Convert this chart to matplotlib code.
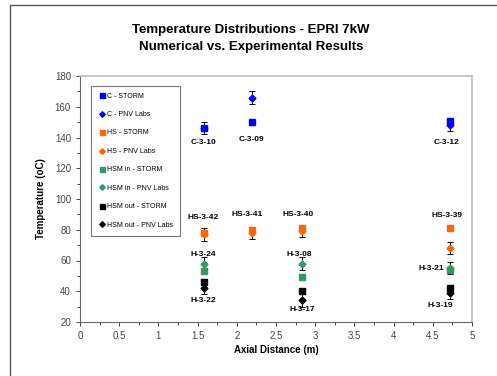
import matplotlib.pyplot as plt
from matplotlib.patches import Rectangle
from matplotlib.ticker import MultipleLocator

plt.rcParams['font.family'] = ['Liberation Sans', 'DejaVu Sans']

# axial positions (m)
x_pos = [1.58, 2.19, 2.83, 4.72]

# STORM (numerical) and PNV Labs (experimental) temperatures, oC
c_storm = [146, 150, None, 151]
c_pnv = [146, 166, None, 148]
hs_storm = [78, 80, 81, 81]
hs_pnv = [77, 78, 79, 68]
hsm_in_storm = [53, None, 49, 54]
hsm_in_pnv = [58, None, 58, 55]
hsm_out_storm = [46, None, 40, 42]
hsm_out_pnv = [42, None, 34, 39]
pnv_err = 4

# thermocouple labels
labels = ['C-3-10', 'C-3-09', 'C-3-12', 'HS-3-42', 'HS-3-41', 'HS-3-40', 'HS-3-39',
          'H-3-24', 'H-3-08', 'H-3-22', 'H-3-17', 'H-3-21', 'H-3-19']
label_x = [1.58, 2.19, 4.68, 1.57, 2.13, 2.78, 4.68,
           1.57, 2.80, 1.57, 2.83, 4.65, 4.60]
label_y = [137, 139, 137, 88, 90, 90, 89,
           64, 64, 34, 28, 55, 31]
label_ha = ['center'] * 11 + ['right', 'center']

series = [
    ('C - STORM', c_storm, 's', '#0000FF', False),
    ('C - PNV Labs', c_pnv, 'D', '#0000FF', True),
    ('HS - STORM', hs_storm, 's', '#FF6600', False),
    ('HS - PNV Labs', hs_pnv, 'D', '#FF6600', True),
    ('HSM in - STORM', hsm_in_storm, 's', '#339966', False),
    ('HSM in - PNV Labs', hsm_in_pnv, 'D', '#339966', True),
    ('HSM out - STORM', hsm_out_storm, 's', '#000000', False),
    ('HSM out - PNV Labs', hsm_out_pnv, 'D', '#000000', True),
]

fig = plt.figure(figsize=(4.97, 3.76), dpi=100)
ax = fig.add_axes([80 / 497, 1 - 322 / 376, 392 / 497, 246 / 376])

# outer chart border
fig.patches.append(Rectangle((10 / 497, -0.1), 1.2, 1.1 - 5 / 376, transform=fig.transFigure,
                             fill=False, edgecolor='#555555', linewidth=1.0))

for name, vals, mk, col, has_err in series:
    xs = [x for x, v in zip(x_pos, vals) if v is not None]
    ys = [v for v in vals if v is not None]
    if has_err:
        ax.errorbar(xs, ys, yerr=pnv_err, fmt='none', ecolor='black',
                    elinewidth=0.7, capsize=2, capthick=0.7, zorder=2)
        ax.plot(xs, ys, 'D', color=col, ms=3.5, label=name, linestyle='none', zorder=3)
    else:
        ax.plot(xs, ys, 's', color=col, ms=4.5, label=name, linestyle='none', zorder=4)

for t, lx, ly, ha in zip(labels, label_x, label_y, label_ha):
    ax.text(lx, ly, t, fontsize=6, fontweight='bold', ha=ha, va='center')

ax.set_xlim(0, 5)
ax.set_ylim(20, 180)
ax.xaxis.set_major_locator(MultipleLocator(0.5))
ax.xaxis.set_minor_locator(MultipleLocator(0.25))
ax.yaxis.set_major_locator(MultipleLocator(20))
ax.yaxis.set_minor_locator(MultipleLocator(10))
ax.xaxis.set_major_formatter(plt.FuncFormatter(lambda v, p: f'{v:g}'))
ax.tick_params(which='both', direction='out', labelsize=7, colors='#444444', width=0.7)
ax.tick_params(which='major', length=3)
ax.tick_params(which='minor', length=2)
for s in ['left', 'bottom']:
    ax.spines[s].set_color('#666666')
for s in ['top', 'right']:
    ax.spines[s].set_color('#BBBBBB')
    ax.spines[s].set_linewidth(1.2)

ax.set_xlabel('Axial Distance (m)', fontsize=7, fontweight='bold', labelpad=3)
ax.set_ylabel('Temperature (oC)', fontsize=7, fontweight='bold', labelpad=6)

fig.text(0.505, 1 - 30 / 376, 'Temperature Distributions - EPRI 7kW', ha='center', va='center',
         fontsize=9.5, fontweight='bold')
fig.text(0.505, 1 - 47 / 376, 'Numerical vs. Experimental Results', ha='center', va='center',
         fontsize=9.5, fontweight='bold')

leg = ax.legend(loc='upper left', bbox_to_anchor=(0.02, 0.975), fontsize=5, frameon=True,
                fancybox=False, edgecolor='#555555', labelspacing=1.65, handletextpad=0.1,
                handlelength=1.2, borderpad=1.0, markerscale=0.8)
leg.get_frame().set_linewidth(0.8)

fig.savefig('out.png', dpi=100)
